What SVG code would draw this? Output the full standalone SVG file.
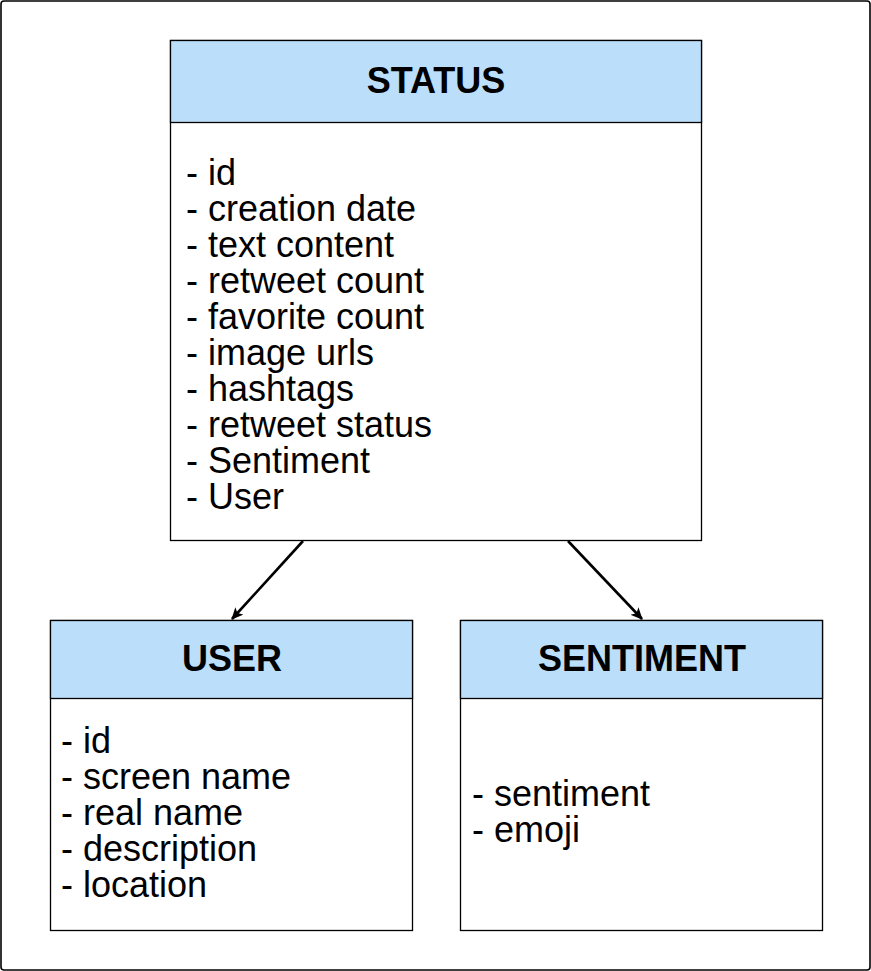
<svg xmlns="http://www.w3.org/2000/svg" width="871" height="971" viewBox="0 0 871 971">
<style>
.box{fill:#ffffff;stroke:#000000;stroke-width:1.3}
.hdr{fill:#bbdefb;stroke:#000000;stroke-width:1.3}
.title{font-family:"Liberation Sans",Arial,sans-serif;font-weight:bold;font-size:36px;fill:#000000;text-anchor:middle}
.body{font-family:"Liberation Sans",Arial,sans-serif;font-size:36px;fill:#000000}
.conn{stroke:#000000;stroke-width:2.6;fill:none}
</style>
<defs>
<marker id="arrow" markerWidth="14" markerHeight="14" refX="11" refY="6" orient="auto" markerUnits="userSpaceOnUse">
<path d="M0,0.5 L12,6 L0,11.5 L3,6 Z" fill="#000000"/>
</marker>
</defs>
<rect x="1" y="1" width="869" height="969" rx="3" ry="3" fill="#ffffff" stroke="#000000" stroke-width="1.6"/>
<g id="status">
<rect class="box" x="170.5" y="40.5" width="531" height="500"/>
<rect class="hdr" x="170.5" y="40.5" width="531" height="82"/>
<text class="title" x="436" y="93">STATUS</text>
<text class="body" x="186" y="185">- id</text>
<text class="body" x="186" y="221">- creation date</text>
<text class="body" x="186" y="257">- text content</text>
<text class="body" x="186" y="293">- retweet count</text>
<text class="body" x="186" y="329">- favorite count</text>
<text class="body" x="186" y="365">- image urls</text>
<text class="body" x="186" y="401">- hashtags</text>
<text class="body" x="186" y="437">- retweet status</text>
<text class="body" x="186" y="473">- Sentiment</text>
<text class="body" x="186" y="509">- User</text>
</g>
<g id="user">
<rect class="box" x="50.5" y="620.5" width="362" height="310"/>
<rect class="hdr" x="50.5" y="620.5" width="362" height="78"/>
<text class="title" x="232" y="671">USER</text>
<text class="body" x="61" y="753">- id</text>
<text class="body" x="61" y="789">- screen name</text>
<text class="body" x="61" y="825">- real name</text>
<text class="body" x="61" y="861">- description</text>
<text class="body" x="61" y="897">- location</text>
</g>
<g id="sentiment">
<rect class="box" x="460.5" y="620.5" width="362" height="310"/>
<rect class="hdr" x="460.5" y="620.5" width="362" height="78"/>
<text class="title" x="642" y="671">SENTIMENT</text>
<text class="body" x="472" y="806">- sentiment</text>
<text class="body" x="472" y="842">- emoji</text>
</g>
<g id="connectors">
<line class="conn" x1="303" y1="541" x2="232" y2="619" marker-end="url(#arrow)"/>
<line class="conn" x1="568" y1="541" x2="642" y2="619" marker-end="url(#arrow)"/>
</g>
</svg>
